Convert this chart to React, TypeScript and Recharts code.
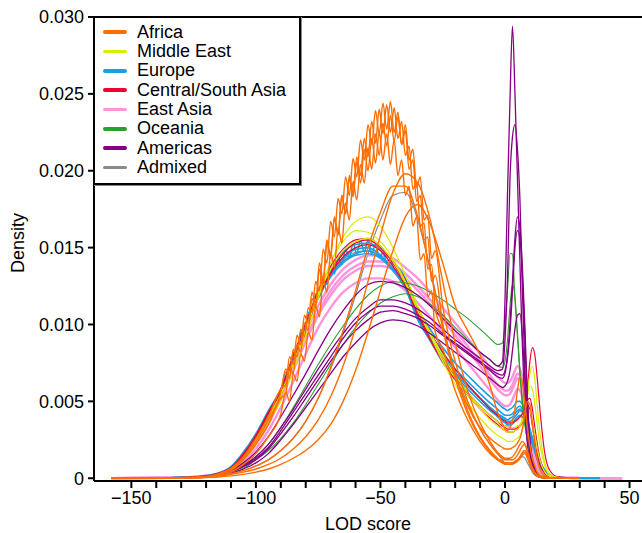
import { LineChart, Line, XAxis, YAxis, ReferenceLine, Label } from 'recharts';

const lodGrid = [
  -158, -135, -125, -120, -115, -110, -105, -100, -95, -90,
  -85, -80, -75, -70, -65, -60, -55, -50, -45, -40,
  -35, -30, -25, -20, -15, -10, -6, -3, -1, 0,
  1, 2, 3, 4, 5, 6, 7, 8, 9, 10,
  11, 12, 13, 14, 16, 18, 21, 25, 30, 38, 47,
];

// finer positions used for the ripples on a few curves
const fineGrid = [
  -88, -86.5, -85, -83.5, -82, -80.5, -79, -77.5, -76, -74.5,
  -73, -71.5, -70, -68.5, -67, -65.5, -64, -62.5, -61, -59.5,
  -58, -56.5, -55, -53.5, -52, -50.5, -49, -47.5, -46, -44.5,
  -43, -41.5, -40, -38.5, -37, -35.5, -34, -32.5, -31, -29.5, -28,
];

// curve values are density x 10^4
const DENSITY_UNIT = 1e-4;

const africa = [
  [0, 0.2, 0.5, 1, 2.5, 6, 13, 24, 38, 56, 78, 100, 128, 158, 183, 203, 221, 233, 235, 218, 185, 140, 100, 68, 44, 27, 18, 13, 11, 10, 10, 10, 10, 11, 12, 14, 17, 18, 15, 10, 6, 3, 2, 1, 0.3, 0.1, 0, 0, 0, null, null],
  [0, 0.2, 0.5, 1, 2.2, 5, 12, 22, 35, 52, 74, 97, 124, 152, 177, 198, 218, 232, 234, 218, 180, 135, 96, 65, 42, 26, 17, 12, 10, 9.5, 9, 9, 9.5, 10, 11, 13, 16, 17, 14, 9, 5, 3, 1.5, 0.8, 0.2, 0, 0, 0, 0, null, null],
  [0, 0.1, 0.4, 0.8, 1.8, 4, 9, 16, 27, 42, 62, 84, 110, 138, 165, 188, 206, 220, 228, 222, 195, 155, 112, 76, 50, 32, 22, 16, 13, 12, 12, 12, 12, 13, 15, 18, 21, 22, 18, 12, 7, 4, 2, 1, 0.3, 0.1, 0, 0, 0, null, null],
  [0, 0.2, 0.6, 1.2, 2.8, 6.5, 14, 26, 40, 58, 80, 102, 128, 154, 177, 196, 209, 216, 212, 192, 158, 118, 84, 57, 38, 24, 16, 12, 10, 9, 9, 9, 9, 10, 11, 13, 15, 16, 13, 9, 5, 3, 1.5, 0.7, 0.2, 0, 0, 0, 0, null, null],
  [0, 0, 0.2, 0.4, 0.8, 1.5, 2.5, 4, 6, 9, 13, 18, 25, 35, 50, 70, 95, 122, 148, 170, 178, 165, 140, 112, 96, 80, 60, 43, 35, 32, 31, 33, 37, 45, 57, 66, 62, 48, 33, 21, 13, 8, 4, 2, 0.6, 0.2, 0, 0, 0, null, null],
  [0, 0.1, 0.3, 0.6, 1.2, 2.5, 4, 6, 9, 13, 19, 27, 38, 53, 73, 98, 128, 158, 185, 198, 192, 168, 128, 88, 57, 36, 24, 17, 14, 13, 13, 13, 14, 16, 19, 22, 24, 22, 17, 11, 6, 3, 1.5, 0.8, 0.2, 0, 0, 0, 0, null, null],
  [0, 0.1, 0.4, 0.8, 1.6, 3, 5, 8, 12, 18, 26, 37, 52, 72, 96, 122, 150, 173, 190, 190, 170, 135, 98, 68, 47, 33, 26, 22, 20, 19, 19, 19, 20, 21, 23, 26, 32, 42, 50, 48, 36, 22, 12, 6, 1.5, 0.4, 0.1, 0, 0, null, null],
];

// ripple detail of the first four African curves on fineGrid
const africaTallFine = [
  [71, 65, 84, 79, 97, 92, 111, 108, 128, 122, 149, 140, 167, 157, 182, 172, 196, 184, 208, 196, 220, 207, 230, 217, 239, 224, 244, 227, 245, 225, 238, 217, 226, 201, 207, 180, 184, 155, 157, 128, 132],
  [55, 73, 68, 87, 82, 101, 96, 117, 111, 136, 126, 153, 143, 169, 158, 184, 172, 197, 185, 209, 197, 221, 209, 232, 218, 240, 224, 243, 225, 241, 221, 232, 210, 216, 188, 192, 164, 166, 136, 139, 110],
  [56, 50, 68, 63, 81, 76, 95, 90, 112, 105, 130, 121, 147, 137, 163, 153, 179, 168, 193, 181, 204, 192, 215, 201, 224, 210, 231, 216, 236, 219, 235, 217, 230, 207, 214, 189, 196, 168, 171, 143, 148],
  [61, 79, 74, 93, 87, 106, 101, 121, 114, 140, 129, 155, 145, 170, 159, 184, 172, 195, 183, 206, 192, 214, 200, 221, 205, 225, 207, 224, 204, 220, 197, 207, 184, 190, 164, 170, 142, 146, 118, 122, 95],
];

const middleEast = [
  [0, 0.3, 0.7, 1.3, 2.5, 5, 12, 22, 36, 50, 70, 92, 117, 140, 157, 167, 170, 164, 150, 132, 112, 93, 76, 61, 49, 39, 32, 28, 26, 25, 24, 24, 24, 25, 26, 28, 32, 40, 55, 68, 73, 64, 46, 30, 10, 3, 0.6, 0.2, 0, null, null],
  [0, 0.3, 0.8, 1.5, 3, 6, 13, 25, 39, 54, 74, 96, 120, 140, 154, 161, 160, 154, 143, 128, 111, 95, 80, 67, 56, 47, 41, 37, 35, 34, 33, 33, 33, 33, 34, 35, 38, 44, 54, 60, 58, 48, 34, 22, 8, 2, 0.5, 0.1, 0, null, null],
  [0, 0.3, 0.7, 1.3, 2.7, 6, 13, 25, 40, 55, 75, 97, 119, 136, 148, 154, 156, 151, 141, 127, 109, 93, 78, 65, 54, 45, 38, 34, 32, 31, 30, 30, 30, 31, 32, 34, 37, 41, 45, 44, 37, 28, 19, 12, 4, 1.2, 0.3, 0.1, 0, null, null],
];

const europe = [
  [0, 0.3, 0.8, 1.5, 3, 7, 16, 28, 43, 56, 78, 100, 120, 134, 144, 150, 151, 146, 138, 127, 106, 94, 81, 71, 63, 55, 49, 45, 42, 41, 41, 41, 42, 44, 46, 47, 45, 41, 36, 31, 26, 20, 15, 11, 5, 2, 0.6, 0.2, 0, 0, null],
  [0, 0.3, 0.8, 1.6, 3.2, 7.5, 17, 29, 44, 58, 79, 100, 119, 132, 141, 146, 148, 144, 136, 125, 105, 92, 79, 69, 60, 52, 46, 42, 39, 38, 37, 37, 38, 40, 42, 44, 43, 40, 35, 30, 25, 19, 14, 10, 4.5, 1.8, 0.5, 0.2, 0, 0, null],
  [0, 0.3, 0.8, 1.5, 3, 7, 15, 27, 42, 56, 77, 99, 121, 136, 147, 152, 153, 149, 141, 130, 110, 97, 85, 75, 67, 59, 53, 49, 46, 45, 44, 45, 46, 48, 50, 50, 48, 44, 38, 32, 26, 20, 15, 11, 5, 2, 0.6, 0.2, 0, 0, null],
  [0, 0.3, 0.7, 1.4, 2.8, 6.5, 15, 27, 41, 55, 76, 97, 117, 131, 140, 145, 146, 143, 135, 124, 104, 91, 78, 68, 60, 52, 46, 42, 40, 39, 38, 39, 40, 42, 44, 45, 43, 39, 34, 29, 24, 18, 13, 9, 4, 1.5, 0.5, 0.1, 0, 0, null],
  [0, 0.3, 0.8, 1.5, 3.1, 7.2, 16, 28, 43, 57, 78, 100, 120, 134, 143, 149, 150, 145, 136, 124, 103, 90, 77, 67, 58, 50, 44, 40, 37, 36, 35, 35, 36, 38, 40, 41, 40, 37, 32, 27, 22, 17, 12, 8, 3.5, 1.3, 0.4, 0.1, 0, 0, null],
];

// ripple detail of the first European curve on fineGrid
const europeFine = [
  [69, 67, 82, 81, 95, 94, 108, 106, 120, 118, 130, 126, 138, 133, 144, 139, 149, 143, 153, 146, 155, 147, 155, 146, 152, 144, 147, 141, 142, 135, 136, 128, 129, 119, 117, 106, 106, 98, 99, 91, 92],
];

const centralSouthAsia = [
  [0, 0.3, 0.7, 1.3, 2.8, 6, 14, 26, 40, 54, 75, 97, 118, 134, 146, 153, 155, 150, 140, 127, 108, 92, 78, 66, 56, 47, 41, 37, 34, 33, 32, 32, 32, 32, 33, 34, 36, 42, 58, 76, 85, 80, 64, 45, 16, 5, 1, 0.3, 0, null, null],
  [0, 0.3, 0.7, 1.4, 3, 6.5, 15, 27, 42, 56, 76, 98, 118, 133, 144, 150, 152, 148, 138, 125, 106, 90, 76, 64, 54, 45, 39, 35, 32, 31, 30, 30, 30, 31, 32, 34, 38, 45, 48, 44, 34, 24, 15, 9, 3, 1, 0.3, 0.1, 0, null, null],
  [0, 0.3, 0.8, 1.5, 3.2, 7, 16, 28, 43, 58, 80, 101, 122, 138, 149, 155, 156, 151, 141, 129, 110, 95, 82, 71, 61, 52, 45, 41, 38, 37, 36, 36, 36, 37, 38, 40, 42, 46, 51, 52, 45, 33, 22, 13, 4, 1.2, 0.3, 0.1, 0, null, null],
];

const eastAsia = [
  [0, 0.3, 0.8, 1.5, 3, 6, 12, 22, 35, 52, 70, 89, 106, 119, 129, 135, 138, 138, 136, 130, 122, 113, 103, 93, 83, 73, 64, 58, 55, 54, 54, 55, 58, 62, 65, 64, 58, 47, 36, 26, 18, 12, 8, 5, 2, 1, 0.4, 0.2, 0.1, 0, 0],
  [0, 0.3, 0.8, 1.6, 3.2, 6.5, 13, 23, 37, 54, 72, 91, 108, 122, 132, 138, 141, 141, 139, 133, 125, 116, 106, 96, 86, 76, 67, 61, 58, 57, 57, 58, 61, 65, 68, 67, 61, 50, 38, 28, 19, 13, 8, 5, 2, 1, 0.4, 0.2, 0.1, 0, 0],
  [0, 0.3, 0.7, 1.3, 2.6, 5.2, 10, 19, 31, 46, 63, 81, 98, 111, 121, 127, 130, 130, 128, 122, 114, 105, 95, 85, 75, 65, 57, 51, 48, 47, 47, 48, 51, 55, 58, 57, 52, 43, 33, 24, 16, 10, 7, 4, 1.6, 0.7, 0.3, 0.2, 0.1, 0, 0],
  [0, 0.3, 0.8, 1.6, 3.2, 6.6, 13.5, 24, 38, 56, 75, 95, 112, 126, 136, 142, 145, 145, 143, 137, 130, 121, 111, 101, 91, 81, 72, 66, 63, 62, 62, 63, 66, 70, 73, 71, 64, 51, 39, 28, 19, 13, 8, 5, 2, 1, 0.4, 0.2, 0.1, 0, 0],
];

const oceania = [
  [0, 0.2, 0.5, 1, 2, 4, 8, 14, 22, 33, 46, 60, 74, 87, 99, 110, 119, 125, 128, 127, 125, 121, 116, 110, 104, 97, 91, 87, 88, 100, 122, 146, 146, 116, 92, 68, 48, 35, 25, 17, 11, 7, 4, 2, 0.6, 0.2, 0, 0, 0, null, null],
  [0, 0.2, 0.4, 0.8, 1.6, 3.3, 6.5, 12, 18, 26, 36, 48, 61, 74, 87, 98, 107, 114, 118, 120, 118, 113, 106, 98, 90, 82, 77, 73, 72, 76, 90, 112, 126, 118, 95, 70, 50, 35, 24, 16, 10, 6, 3, 2, 0.5, 0.1, 0, 0, 0, null, null],
];

const americas = [
  [0, 0.3, 0.8, 1.5, 3, 5, 10, 17, 27, 40, 54, 68, 83, 97, 109, 119, 126, 128, 127, 124, 119, 112, 104, 96, 89, 82, 77, 73, 76, 116, 185, 246, 294, 250, 195, 140, 85, 45, 22, 12, 6, 3, 1.5, 0.8, 0.2, 0, 0, 0, 0, null, null],
  [0, 0.2, 0.6, 1.2, 2.4, 4.5, 8.5, 14, 22, 33, 45, 58, 71, 83, 94, 104, 111, 116, 116, 114, 110, 104, 97, 90, 84, 78, 73, 70, 71, 90, 130, 195, 222, 230, 214, 181, 122, 70, 36, 18, 9, 5, 2.5, 1.2, 0.3, 0, 0, 0, 0, null, null],
  [0, 0.2, 0.5, 1, 2, 4, 7.5, 12, 19, 29, 40, 52, 64, 76, 87, 96, 103, 108, 109, 107, 104, 99, 93, 87, 81, 75, 70, 66, 65, 68, 80, 100, 128, 156, 170, 163, 137, 98, 52, 25, 12, 5, 2, 1, 0.3, 0, 0, 0, 0, null, null],
  [0, 0.2, 0.4, 0.8, 1.6, 3.2, 6, 10, 16, 25, 35, 46, 57, 68, 79, 88, 96, 101, 103, 102, 99, 94, 88, 82, 76, 70, 65, 61, 59, 60, 63, 70, 83, 97, 106, 107, 92, 63, 36, 18, 8, 3, 1.5, 0.6, 0.2, 0, 0, 0, 0, null, null],
  [0, 0.2, 0.5, 1, 2.2, 4.2, 8, 13, 20, 31, 43, 55, 67, 79, 91, 101, 108, 112, 112, 110, 106, 101, 94, 88, 82, 76, 71, 68, 67, 70, 78, 95, 122, 150, 161, 156, 130, 90, 50, 24, 11, 5, 2, 1, 0.3, 0, 0, 0, 0, null, null],
];

const admixed = [
  [0, 0.1, 0.4, 0.8, 1.6, 3, 5, 8, 12, 18, 26, 37, 52, 71, 94, 119, 146, 168, 184, 186, 168, 136, 100, 70, 48, 32, 22, 16, 12, 10, 10, 10, 10, 11, 12, 13, 14, 13, 10, 7, 4, 2, 1, 0.5, 0.1, 0, 0, 0, 0, null, null],
  [0, 0.3, 0.8, 1.5, 3, 7, 15, 27, 42, 56, 77, 98, 118, 132, 142, 147, 148, 144, 135, 123, 103, 89, 75, 64, 55, 47, 41, 37, 35, 34, 34, 34, 35, 37, 39, 40, 39, 36, 31, 26, 21, 16, 11, 8, 3, 1, 0.3, 0.1, 0, null, null],
];

const regions = [
  { name: 'Africa', color: '#ff6d00', width: 1.4, curves: africa, fine: africaTallFine },
  { name: 'Middle East', color: '#d8ee00', width: 1.2, curves: middleEast, fine: [] as number[][] },
  { name: 'Europe', color: '#1a9fe6', width: 1.6, curves: europe, fine: europeFine },
  { name: 'Central/South Asia', color: '#f2002f', width: 1.2, curves: centralSouthAsia, fine: [] as number[][] },
  { name: 'East Asia', color: '#ff94dc', width: 2.4, curves: eastAsia, fine: [] as number[][] },
  { name: 'Oceania', color: '#2e9e2e', width: 1.1, curves: oceania, fine: [] as number[][] },
  { name: 'Americas', color: '#850085', width: 1.3, curves: americas, fine: [] as number[][] },
  { name: 'Admixed', color: '#8a8a8a', width: 1.2, curves: admixed, fine: [] as number[][] },
];

// later entries are drawn on top
const drawOrder = ['Admixed', 'East Asia', 'Europe', 'Central/South Asia', 'Middle East', 'Oceania', 'Americas', 'Africa'];

const xTicks = [-150, -140, -130, -120, -110, -100, -90, -80, -70, -60, -50, -40, -30, -20, -10, 0, 10, 20, 30, 40, 50];
const yTicks = [0, 0.005, 0.01, 0.015, 0.02, 0.025, 0.03];

const FONT = '"Liberation Sans", Arial, sans-serif';

type Pt = { lod: number; v: number | null };

// coarse points outside the fine window, ripple points inside it
function withRipples(coarse: (number | null)[], fine: number[]): Pt[] {
  const lo = fineGrid[0];
  const hi = fineGrid[fineGrid.length - 1];
  const pts: Pt[] = [];
  lodGrid.forEach((lod, i) => { if (lod < lo) pts.push({ lod, v: coarse[i] }); });
  fineGrid.forEach((lod, i) => pts.push({ lod, v: fine[i] }));
  lodGrid.forEach((lod, i) => { if (lod > hi) pts.push({ lod, v: coarse[i] }); });
  return pts.map((p) => ({ lod: p.lod, v: p.v == null ? null : p.v * DENSITY_UNIT }));
}

const series = drawOrder.flatMap((name) => {
  const r = regions.find((g) => g.name === name)!;
  return r.curves.map((values, j) => ({
    key: `${name}-${j}`,
    color: r.color,
    width: r.width,
    values,
    points: r.fine[j] ? withRipples(values, r.fine[j]) : null,
  }));
});

const rows = lodGrid.map((lod, i) => {
  const row: Record<string, number | null> = { lod };
  series.forEach((s) => {
    const v = s.values[i];
    row[s.key] = v == null ? null : v * DENSITY_UNIT;
  });
  return row;
});

const fmtX = (v: number) => (v % 50 === 0 ? (v < 0 ? '\u2212' + -v : String(v)) : '');
const fmtY = (v: number) => (v === 0 ? '0' : v.toFixed(3));

function RegionLegend() {
  return (
    <div
      style={{
        position: 'absolute', left: 93, top: 16, width: 208, height: 169, boxSizing: 'border-box',
        border: '2px solid #000', boxShadow: '1px 1px 0 #888', background: '#fff',
        paddingTop: 4.5, fontFamily: FONT, fontSize: 18, color: '#000',
      }}
    >
      {regions.map((r) => (
        <div key={r.name} style={{ display: 'flex', alignItems: 'center', height: 19.33 }}>
          <div style={{ width: 24, height: 3.5, borderRadius: 2, background: r.color, marginLeft: 8 }} />
          <span style={{ marginLeft: 10, lineHeight: '19px', whiteSpace: 'nowrap' }}>{r.name}</span>
        </div>
      ))}
    </div>
  );
}

export default function App() {
  return (
    <div style={{ position: 'relative', width: 642, height: 533, background: '#fff' }}>
      <style>{'body{margin:0}'}</style>
      <LineChart width={642} height={533} data={rows} margin={{ top: 17, right: 0, bottom: 0, left: 0 }}>
        <XAxis
          dataKey="lod" type="number" domain={[-165, 55]} allowDataOverflow ticks={xTicks}
          tickFormatter={fmtX} interval={0} height={52} tickSize={7} tickMargin={3}
          axisLine={{ stroke: '#000', strokeWidth: 2 }} tickLine={{ stroke: '#000', strokeWidth: 2 }}
          tick={{ fill: '#000', fontSize: 18, fontFamily: FONT }}
        >
          <Label
            content={() => (
              <text x={368} y={530} textAnchor="middle" fontSize={18} fontFamily={FONT} fill="#000">LOD score</text>
            )}
          />
        </XAxis>
        <YAxis
          type="number" domain={[-0.00018, 0.03]} allowDataOverflow ticks={yTicks} tickFormatter={fmtY}
          interval={0} width={94} tickSize={6} tickMargin={4}
          axisLine={{ stroke: '#000', strokeWidth: 2 }} tickLine={{ stroke: '#000', strokeWidth: 2 }}
          tick={{ fill: '#000', fontSize: 18, fontFamily: FONT }}
        >
          <Label
            content={() => (
              <text x={24} y={243} transform="rotate(-90 24 243)" textAnchor="middle" fontSize={18} fontFamily={FONT} fill="#000">Density</text>
            )}
          />
        </YAxis>
        <ReferenceLine y={0.03} stroke="#000" strokeWidth={2} />
        {series.map((s) =>
          s.points ? (
            <Line
              key={s.key} data={s.points} dataKey="v" type="monotone" stroke={s.color} strokeWidth={s.width}
              dot={false} activeDot={false} isAnimationActive={false} connectNulls={false}
            />
          ) : (
            <Line
              key={s.key} dataKey={s.key} type="monotone" stroke={s.color} strokeWidth={s.width}
              dot={false} activeDot={false} isAnimationActive={false} connectNulls={false}
            />
          ),
        )}
      </LineChart>
      <RegionLegend />
    </div>
  );
}
